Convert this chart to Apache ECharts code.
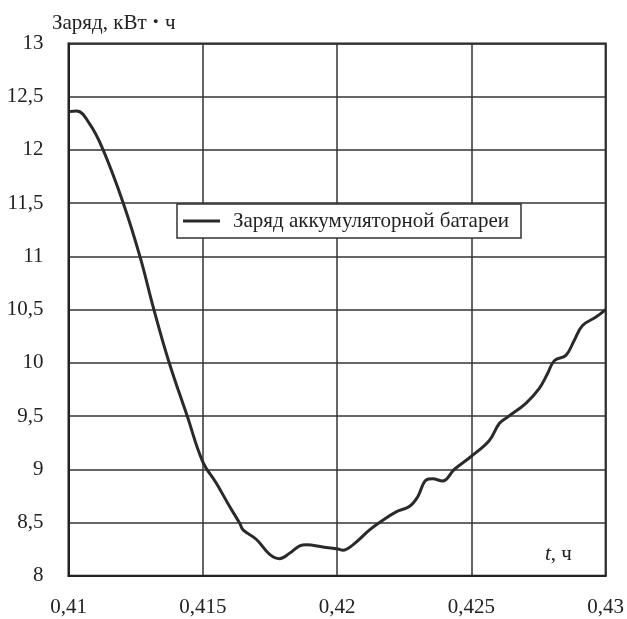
<!DOCTYPE html>
<html>
<head>
<meta charset="utf-8">
<script src="https://cdn.jsdelivr.net/npm/echarts@6/dist/echarts.min.js"></script>
<style>
  html, body { margin: 0; padding: 0; background: #fff; }
  #chart { width: 627px; height: 619px; }
</style>
</head>
<body>
<div id="chart"></div>
<script>
// Time, hours
const timeH = [
  0.41000, 0.41030, 0.41080, 0.41129, 0.41204, 0.41266, 0.41318,
  0.41375, 0.41442, 0.41500, 0.41550, 0.41600, 0.41638, 0.41650, 0.41700,
  0.41749, 0.41786, 0.41823, 0.41861, 0.41886, 0.41947, 0.42003, 0.42022,
  0.42059, 0.42121, 0.42158, 0.42220, 0.42269, 0.42300, 0.42332, 0.42356,
  0.42393, 0.42437, 0.42499, 0.42567, 0.42604, 0.42635, 0.42703, 0.42753,
  0.42784, 0.42809, 0.42852, 0.42883, 0.42914, 0.42964, 0.43000
];
// Battery charge, kWh
const chargeKWh = [
  12.36, 12.365, 12.24, 12.00, 11.50, 11.00, 10.50,
  10.00, 9.50, 9.07, 8.87, 8.65, 8.49, 8.43, 8.34,
  8.20, 8.16, 8.21, 8.28, 8.29, 8.27, 8.25, 8.24,
  8.29, 8.43, 8.50, 8.60, 8.65, 8.74, 8.90, 8.91,
  8.89, 9.00, 9.12, 9.27, 9.43, 9.49, 9.62, 9.76,
  9.90, 10.02, 10.07, 10.21, 10.35, 10.43, 10.50
];
const xTickLabels = ['0,41', '0,415', '0,42', '0,425', '0,43'];
const yTickLabels = ['8', '8,5', '9', '9,5', '10', '10,5', '11', '11,5', '12', '12,5', '13'];
const seriesName = 'Заряд аккумуляторной батареи';

const FONT = 'Liberation Serif';
const points = timeH.map((t, i) => [t, chargeKWh[i]]);

const chart = echarts.init(document.getElementById('chart'), null, { renderer: 'canvas' });
chart.setOption({
  animation: false,
  backgroundColor: '#fff',
  grid: {
    left: 68.5, right: 20.5, top: 43.5, bottom: 43.3,
    show: true, borderColor: '#222', borderWidth: 2, backgroundColor: 'transparent'
  },
  xAxis: {
    type: 'value', min: 0.41, max: 0.43, interval: 0.005,
    axisLine: { show: true, lineStyle: { color: '#222', width: 2 } },
    axisTick: { show: false },
    splitLine: { show: true, lineStyle: { color: '#333', width: 1.5 } },
    axisLabel: {
      margin: 21, color: '#222', fontFamily: FONT, fontSize: 21,
      formatter: v => xTickLabels[Math.round((v - 0.41) / 0.005)]
    }
  },
  yAxis: {
    type: 'value', min: 8, max: 13, interval: 0.5,
    axisLine: { show: true, lineStyle: { color: '#222', width: 2 } },
    axisTick: { show: false },
    splitLine: { show: true, lineStyle: { color: '#333', width: 1.5 } },
    axisLabel: {
      margin: 25, color: '#222', fontFamily: FONT, fontSize: 21,
      formatter: v => yTickLabels[Math.round((v - 8) / 0.5)]
    }
  },
  legend: {
    left: 177, top: 204,
    data: [seriesName],
    icon: 'rect', itemWidth: 37, itemHeight: 3,
    padding: [6, 12, 6, 6],
    backgroundColor: '#fff', borderColor: '#333', borderWidth: 1.5,
    textStyle: {
      color: '#222', fontFamily: FONT, fontSize: 21, lineHeight: 22,
      padding: [0, 0, 0, 8]
    }
  },
  graphic: [
    {
      type: 'text', left: 52, top: 11,
      style: {
        text: 'Заряд, кВт {b|·} ч',
        font: '21px "Liberation Serif"', fill: '#222',
        rich: { b: { fontWeight: 'bold', fontFamily: FONT, fontSize: 24, fill: '#222' } }
      }
    },
    {
      type: 'text', left: 545, top: 544,
      style: {
        text: '{i|t}, ч',
        font: '21px "Liberation Serif"', fill: '#222',
        rich: { i: { fontStyle: 'italic', fontFamily: FONT, fontSize: 21, fill: '#222' } }
      }
    }
  ],
  series: [{
    name: seriesName,
    type: 'line',
    data: points,
    smooth: 0.4,
    symbol: 'none',
    lineStyle: { color: '#2a2a2a', width: 3 },
    itemStyle: { color: '#2a2a2a' },
    z: 3
  }]
});
</script>
</body>
</html>
